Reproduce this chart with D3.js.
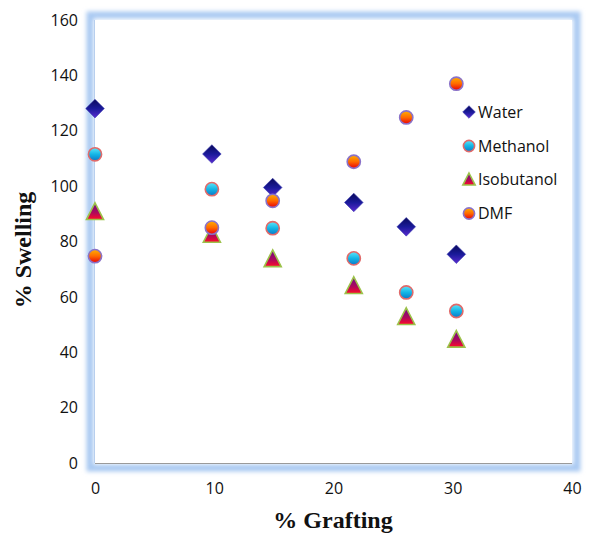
<!DOCTYPE html>
<html><head><meta charset="utf-8">
<script src="https://cdn.jsdelivr.net/npm/d3@7"></script>
<style>body{margin:0;background:#fff}svg{display:block}</style>
</head><body>
<svg id="c" width="591" height="533"></svg>
<script>
const grafting = [0, 9.8, 14.9, 21.7, 26.1, 30.3];
const water = [128, 111.6, 99.5, 94.1, 85.3, 75.4];
const methanol = [111.5, 98.9, 84.8, 73.9, 61.6, 54.9];
const isobutanol = [90.7, 82.5, 73.7, 64, 52.8, 44.6];
const dmf = [74.7, 85, 94.7, 108.8, 124.8, 137];
const seriesNames = ["Water", "Methanol", "Isobutanol", "DMF"];
const xTicks = [0, 10, 20, 30, 40];
const yTicks = [0, 20, 40, 60, 80, 100, 120, 140, 160];

const svg = d3.select("#c");
const L = 95, R = 572, T = 20, B = 463;
const x = d3.scaleLinear().domain([0, 40]).range([L, R]);
const y = d3.scaleLinear().domain([0, 160]).range([B, T]);

const defs = svg.append("defs");
const blur = defs.append("filter").attr("id","glow").attr("x","-10%").attr("y","-10%").attr("width","120%").attr("height","120%");
blur.append("feGaussianBlur").attr("stdDeviation", 2);
function grad(id, stops, x1=0,y1=0,x2=0,y2=1){
  const g = defs.append("linearGradient").attr("id", id).attr("x1",x1).attr("y1",y1).attr("x2",x2).attr("y2",y2);
  stops.forEach(([o,c]) => g.append("stop").attr("offset", o).attr("stop-color", c));
}
grad("gWater", [[0,"#0a0a5a"],[0.5,"#1a1a9a"],[1,"#5a2ad0"]]);
grad("gMeth", [[0,"#5ee4f8"],[0.5,"#14b6e6"],[1,"#0a78c8"]]);
grad("gIso", [[0,"#6a0a8a"],[0.6,"#b0085a"],[1,"#ff0a2a"]]);
grad("gDmf", [[0,"#ffb000"],[0.5,"#ff6a00"],[1,"#e8000a"]]);

// glow frame
svg.append("rect").attr("x", L-5).attr("y", T-5).attr("width", R-L+10).attr("height", B-T+10)
  .attr("fill","none").attr("stroke","#a9c9f2").attr("stroke-width",7).attr("filter","url(#glow)");
svg.append("rect").attr("x", L).attr("y", T).attr("width", R-L).attr("height", B-T).attr("fill","#fff");
svg.append("line").attr("x1", L).attr("x2", R).attr("y1", B+0.5).attr("y2", B+0.5).attr("stroke","#9a9a9a").attr("stroke-width",1.2);
svg.append("line").attr("x1", L-0.5).attr("x2", L-0.5).attr("y1", T).attr("y2", B).attr("stroke","#b8cfee").attr("stroke-width",1);

// axes labels
const font = "'Open Sans', sans-serif";
const ya = svg.append("g").attr("transform", `translate(${L},0)`).call(d3.axisLeft(y).tickValues(yTicks).tickSize(0).tickPadding(17));
ya.select(".domain").remove();
ya.selectAll("text").attr("font-family", font).attr("font-size", 16).attr("fill","#111");
const xa = svg.append("g").attr("transform", `translate(0,${B})`).call(d3.axisBottom(x).tickValues(xTicks).tickSize(0).tickPadding(20));
xa.select(".domain").remove();
xa.selectAll("text").attr("font-family", font).attr("font-size", 16).attr("fill","#111");

svg.append("text").attr("x", 333).attr("y", 528).attr("text-anchor","middle")
  .attr("font-family","'Liberation Serif', 'Times New Roman', serif").attr("font-weight","bold").attr("font-size",24).attr("fill","#111").text("% Grafting");
svg.append("text").attr("transform","translate(31,250) rotate(-90)").attr("text-anchor","middle")
  .attr("font-family","'Liberation Serif', 'Times New Roman', serif").attr("font-weight","bold").attr("font-size",24).attr("fill","#111").text("% Swelling");

// markers
function diamond(g, s){ g.append("path").attr("d", `M0,${-s}L${s},0L0,${s}L${-s},0Z`).attr("fill","url(#gWater)").attr("stroke","#3a3ab0").attr("stroke-width",0.6); }
function circ(g, r, fill, stroke){ g.append("circle").attr("r", r).attr("fill", fill).attr("stroke", stroke).attr("stroke-width", 1.6); }
function tri(g, s){ g.append("path").attr("d", `M0,${-s}L${s*0.95},${s*0.85}L${-s*0.95},${s*0.85}Z`).attr("fill","url(#gIso)").attr("stroke","#9cc24a").attr("stroke-width",1.6).attr("stroke-linejoin","miter"); }
const drawers = {
  Water: (g, big) => diamond(g, big ? 9.3 : 6.3),
  Methanol: (g, big) => circ(g, big ? 6.6 : 5.6, "url(#gMeth)", "#e06a6a"),
  Isobutanol: (g, big) => tri(g, big ? 9 : 6.5),
  DMF: (g, big) => circ(g, big ? 6.6 : 5.6, "url(#gDmf)", "#8a72c8")
};
const data = {Water: water, Methanol: methanol, Isobutanol: isobutanol, DMF: dmf};
seriesNames.forEach(name => {
  const pts = grafting.map((g, i) => ({g, v: data[name][i]}));
  svg.append("g").selectAll("g").data(pts).join("g")
    .attr("transform", d => `translate(${x(d.g)},${y(d.v)})`)
    .each(function(){ drawers[name](d3.select(this), true); });
});

// legend
const legY = [112, 146, 179.5, 213.5];
seriesNames.forEach((name, i) => {
  const g = svg.append("g").attr("transform", `translate(469,${legY[i]})`);
  drawers[name](g, false);
  svg.append("text").attr("x", 478).attr("y", legY[i]).attr("dy","0.36em")
    .attr("font-family", font).attr("font-size", 16).attr("fill","#111").text(name);
});
</script>
</body></html>
